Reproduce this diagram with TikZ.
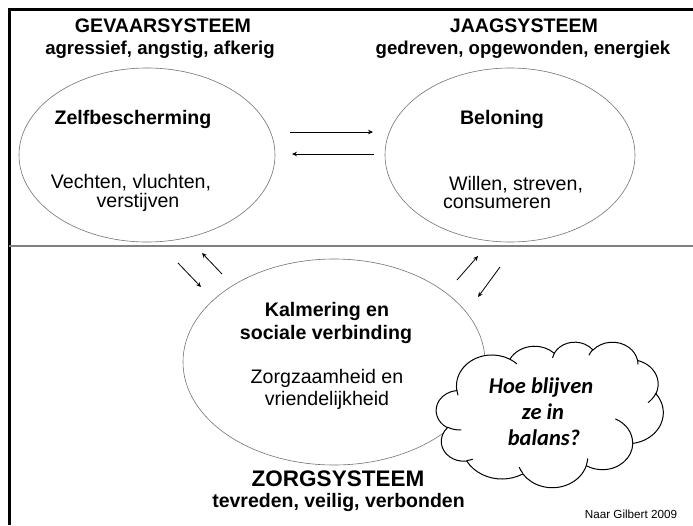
\documentclass[tikz,border=0pt]{standalone}
\usepackage{fontspec}
\setmainfont{Liberation Sans}
\newfontfamily\calib{Carlito}
\usetikzlibrary{shapes.geometric,arrows.meta}
\tikzset{
  ell/.style={draw=black!55, line width=0.6pt, ellipse, inner sep=0pt},
  hd/.style={anchor=base, inner sep=0pt, font=\fontsize{19.6}{22}\selectfont\bfseries},
  sub/.style={anchor=base, inner sep=0pt, font=\fontsize{18.6}{22}\selectfont\bfseries},
  txt/.style={anchor=base, inner sep=0pt, font=\fontsize{19.6}{22}\selectfont},
  ctxt/.style={anchor=base, inner sep=0pt, font=\fontsize{22.5}{24}\selectfont\calib\bfseries\itshape},
  arr/.style={-{Stealth[length=5pt,width=4.5pt]}, line width=0.8pt},
  cloudline/.style={line width=1pt, line join=round, line cap=round},
}
\begin{document}
\begin{tikzpicture}[x=1pt,y=-1pt]
\useasboundingbox (0,0) rectangle (693,525);
\fill[white] (0,0) rectangle (693,525);
% frame
\coordinate (fl) at (9,9);
\coordinate (fr) at (693,9);
\coordinate (fb) at (9,525);
\draw[line width=3pt] (fb) -- (fl) -- (fr);
\coordinate (dl) at (9,246);
\coordinate (dr) at (693,246);
\draw[black!50, line width=2pt] (dl) -- (dr);

% ellipses
\node[ell, minimum width=256pt, minimum height=174pt] (zelf) at (147,155) {};
\node[ell, minimum width=250pt, minimum height=174pt] (bel) at (510,155) {};
\node[ell, minimum width=302pt, minimum height=206pt] (kalm) at (334,362) {};

% headings
\node[hd] (gev) at (163,32) {GEVAARSYSTEEM};
\node[sub] (gevs) at (160,54) {agressief, angstig, afkerig};
\node[hd] (jaag) at (524,32) {JAAGSYSTEEM};
\node[sub] (jaags) at (523,54) {gedreven, opgewonden, energiek};

% left ellipse text
\node[hd] (zt) at (133,124) {Zelfbescherming};
\node[txt] (z1) at (131,188) {Vechten, vluchten,};
\node[txt] (z2) at (138,207) {verstijven};

% right ellipse text
\node[hd] (bt) at (502,124) {Beloning};
\node[txt] (b1) at (516,190) {Willen, streven,};
\node[txt] (b2) at (497,208) {consumeren};

% bottom ellipse text
\node[hd] (k1) at (327,316) {Kalmering en};
\node[hd] (k2) at (326,339) {sociale verbinding};
\node[txt] (k3) at (327,383) {Zorgzaamheid en};
\node[txt] (k4) at (327,405) {vriendelijkheid};

% bottom heading
\node[anchor=base, inner sep=0pt, font=\fontsize{22.5}{24}\selectfont\bfseries] (zorg) at (338,486) {ZORGSYSTEEM};
\node[anchor=base, inner sep=0pt, font=\fontsize{19.5}{22}\selectfont\bfseries] (zorgs) at (338.5,507) {tevreden, veilig, verbonden};
\node[anchor=base, inner sep=0pt, font=\fontsize{11.7}{13}\selectfont] (src) at (631,518) {Naar Gilbert 2009};

% cloud (PowerPoint-style cloud, 4320 x 4320 units)
\begin{scope}[shift={(436.3,341.7)}, x=0.052523pt, y=-0.033681pt]
  \coordinate (cloudstart) at (390,1437);
  \draw[cloudline, fill=white] (cloudstart)
    arc[start angle=-187.746, end angle=-59.64, x radius=675.3, y radius=919.0]
    arc[start angle=-152.04, end angle=-45.43, x radius=533.3, y radius=726.7]
    arc[start angle=-153.50, end angle=-37.35, x radius=436.5, y radius=594.5]
    arc[start angle=-139.72, end angle=-10.21, x radius=485.7, y radius=659.5]
    arc[start angle=-74.77, end angle=23.21, x radius=533.3, y radius=727.3]
    arc[start angle=-37.54, end angle=81.86, x radius=677.5, y radius=922.0]
    arc[start angle=0.46, end angle=121.98, x radius=578.5, y radius=786.7]
    arc[start angle=16.84, end angle=146.23, x radius=675.2, y radius=921.5]
    arc[start angle=58.98, end angle=150.18, x radius=772.0, y radius=1054.3]
    arc[start angle=-276.69, end angle=-136.94, x radius=436.0, y radius=591.8]
    arc[start angle=-239.64, end angle=-95.89, x radius=434.5, y radius=594.5]
    -- cycle;
  \draw[cloudline]
    (469.3,2617.7) arc[start angle=85.55, end angle=120.36, x radius=434.5, y radius=594.5]
    (692.8,3489.9) arc[start angle=68.24, end angle=83.31, x radius=436.0, y radius=591.8]
    (1647.8,3909.0) arc[start angle=146.23, end angle=158.47, x radius=675.2, y radius=921.5]
    (2882.7,3475.1) arc[start angle=4.74, end angle=16.84, x radius=675.2, y radius=921.5]
    (3412.9,2295.4) arc[start angle=-64.03, end angle=0.46, x radius=578.5, y radius=786.7]
    (4179.8,1535.4) arc[start angle=23.21, end angle=49.64, x radius=533.3, y radius=727.3]
    (3832.4,542.6) arc[start angle=-10.21, end angle=0.82, x radius=485.7, y radius=659.5]
    (2907.8,395.2) arc[start angle=-156.30, end angle=-139.72, x radius=485.7, y radius=659.5]
    (2214.1,472.0) arc[start angle=-167.72, end angle=-153.50, x radius=436.5, y radius=594.5]
    (1400.0,519.2) arc[start angle=-59.64, end angle=-45.71, x radius=675.3, y radius=919.0]
    (412.7,1578.9) arc[start angle=163.19, end angle=172.25, x radius=675.3, y radius=919.0];
\end{scope}
\node[ctxt] (c1) at (541,393) {Hoe blijven};
\node[ctxt] (c2) at (543,419) {ze in};
\node[ctxt] (c3) at (544,445) {balans?};

% arrows
\coordinate (a1s) at (290,132); \coordinate (a1e) at (373,132);
\coordinate (a2s) at (374,154); \coordinate (a2e) at (292,154);
\draw[arr] (a1s) -- (a1e);
\draw[arr] (a2s) -- (a2e);
\coordinate (a3s) at (178,263); \coordinate (a3e) at (201,287);
\coordinate (a4s) at (222,274); \coordinate (a4e) at (202,253);
\draw[arr] (a3s) -- (a3e);
\draw[arr] (a4s) -- (a4e);
\coordinate (a5s) at (457,280); \coordinate (a5e) at (478,256);
\coordinate (a6s) at (500,267); \coordinate (a6e) at (478,297);
\draw[arr] (a5s) -- (a5e);
\draw[arr] (a6s) -- (a6e);
\end{tikzpicture}
\end{document}
